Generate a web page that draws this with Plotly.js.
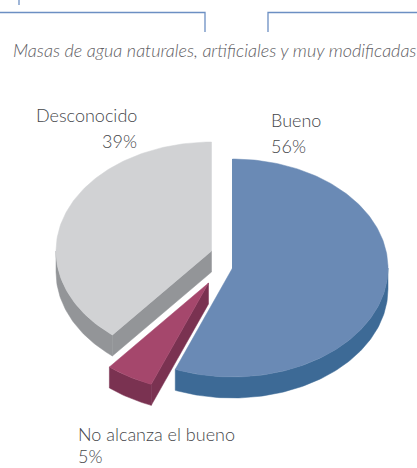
<!DOCTYPE html>
<html>
<head>
<meta charset="utf-8">
<script src="https://cdn.plot.ly/plotly-3.0.1.min.js"></script>
<style>html,body{margin:0;padding:0;background:#fff}#c{width:417px;height:468px}</style>
</head>
<body>
<div id="c"></div>
<script>
// Data
var categories = ["Bueno", "No alcanza el bueno", "Desconocido"];
var values = [56, 5, 39];
var chartTitle = "Masas de agua naturales, artificiales y muy modificadas";

// Style
var topColors = ["#6A8AB5", "#A5476C", "#D1D2D4"];
var wallColors = ["#3D6A96", "#7A3251", "#939598"];
var bracketColor = "#6C8FC3";
var textColor = "#45464A";
var fontFamily = "Lato, 'Open Sans', sans-serif";

// Pie geometry (the tilted 3D view Plotly's pie trace does not offer)
var W = 417, H = 468;
var rx = 155.5, ry = 109, depth = 21;
var apexX = [232.5, 208.5, 211.5];
var apexY = [268, 283, 251];
var labelX = [269, 76, 139];
var nameY = [120, 434, 115];
var percentY = [146, 456, 141];
var labelAnchor = ["left", "left", "right"];

function pt(i, deg, dy) {
  var a = deg * Math.PI / 180;
  return [apexX[i] + rx * Math.sin(a), apexY[i] - ry * Math.cos(a) + (dy || 0)];
}
function arc(i, from, to, dy) {
  var out = [], n = Math.max(2, Math.ceil(Math.abs(to - from)));
  for (var k = 0; k <= n; k++) out.push(pt(i, from + (to - from) * k / n, dy));
  return out;
}
function poly(points, color) {
  return {
    type: "scatter", mode: "lines", fill: "toself", fillcolor: color,
    x: points.map(function (p) { return p[0]; }),
    y: points.map(function (p) { return p[1]; }),
    line: { width: 0.5, color: color }, hoverinfo: "skip", showlegend: false
  };
}
function stroke(xs, ys) {
  return {
    type: "scatter", mode: "lines", x: xs, y: ys,
    line: { width: 1.3, color: bracketColor }, hoverinfo: "skip", showlegend: false
  };
}

var total = values.reduce(function (a, b) { return a + b; }, 0);
var starts = [], cum = 0;
values.forEach(function (v) { starts.push(cum / total * 360); cum += v; });

var traces = [];
[2, 1, 0].forEach(function (i) {
  var s = starts[i], e = s + values[i] / total * 360;
  var apex = [apexX[i], apexY[i]];
  var apexLow = [apexX[i], apexY[i] + depth];
  // cut face along the starting radius
  traces.push(poly([apex, pt(i, s), pt(i, s, depth), apexLow, apex], wallColors[i]));
  // rim, only the part that faces the viewer
  var from = Math.max(s, 90), to = Math.min(e, 270);
  if (to > from) {
    var rim = arc(i, from, to, 0).concat(arc(i, to, from, depth));
    rim.push(rim[0]);
    traces.push(poly(rim, wallColors[i]));
  }
  // top face
  var face = [apex].concat(arc(i, s, e, 0));
  face.push(apex);
  traces.push(poly(face, topColors[i]));
});

// Bracket lines at the top
traces.push(stroke([0, 205, 205], [12.5, 12.5, 32]));
traces.push(stroke([268, 268, 417], [32, 12.5, 12.5]));
traces.push(stroke([19, 19], [0, 5]));

function textNote(x, y, text, anchor, size, color) {
  return {
    x: x, y: y, xref: "x", yref: "y", text: text,
    showarrow: false, xanchor: anchor, yanchor: "middle", align: anchor,
    font: { family: fontFamily, size: size, color: color, weight: 300 }
  };
}
var annotations = [];
categories.forEach(function (c, i) {
  annotations.push(textNote(labelX[i], nameY[i], c, labelAnchor[i], 18, textColor));
  annotations.push(textNote(labelX[i], percentY[i], values[i] + "%", labelAnchor[i], 18, textColor));
});
annotations.push(textNote(214, 50, "<i>" + chartTitle + "</i>", "center", 18, "#5F6064"));

Plotly.newPlot("c", traces, {
  width: W, height: H,
  margin: { l: 0, r: 0, t: 0, b: 0 },
  paper_bgcolor: "#fff", plot_bgcolor: "#fff",
  xaxis: { range: [0, W], visible: false, fixedrange: true },
  yaxis: { range: [H, 0], visible: false, fixedrange: true },
  annotations: annotations, showlegend: false
}, { displayModeBar: false, staticPlot: true });
</script>
</body>
</html>
